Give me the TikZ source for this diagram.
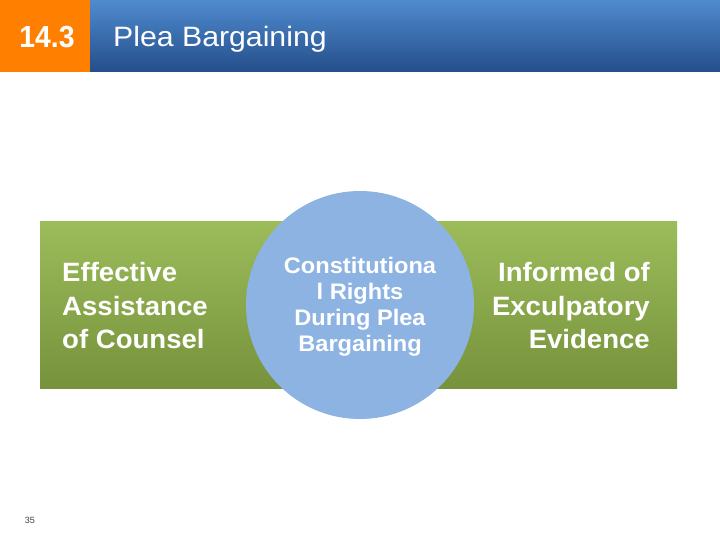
\documentclass[tikz,border=0pt]{standalone}
\usepackage{fontspec}
\setmainfont{Liberation Sans}
\definecolor{hdrorange}{HTML}{FF8000}
\definecolor{hdrblueT}{HTML}{4F8BCF}
\definecolor{hdrblueB}{HTML}{244E8A}
\definecolor{grnT}{HTML}{9CBC5A}
\definecolor{grnB}{HTML}{76923C}
\definecolor{circblue}{HTML}{8DB3E2}
\tikzset{
  bodytext/.style={text=white, font=\bfseries\fontsize{26.5}{33.5}\selectfont, inner sep=0pt, xscale=1.04},
  circtext/.style={text=white, font=\bfseries\fontsize{22.5}{26}\selectfont, inner sep=0pt, align=center, xscale=1.05},
}
\begin{document}
\begin{tikzpicture}[x=1pt,y=-1pt]
\useasboundingbox (0,0) rectangle (720,540);
\fill[white] (0,0) rectangle (720,540);
% header
\fill[hdrorange] (0,0) rectangle (90,72);
\shade[top color=hdrblueT, bottom color=hdrblueB] (90,0) rectangle (720,72);
\node[text=white, font=\bfseries\fontsize{30.5}{30}\selectfont, inner sep=0pt, xscale=0.93] (num) at (47,37) {14.3};
\node[text=white, font=\fontsize{28}{28}\selectfont, inner sep=0pt, anchor=west, xscale=1.08] (title) at (113,39) {Plea Bargaining};
% band
\shade[top color=grnT, bottom color=grnB] (40,222) rectangle (677,388);
\node[circle, fill=circblue, minimum size=228pt, inner sep=0pt] (circ) at (360,305) {};
\node[bodytext, align=left, anchor=west] (left) at (62,306) {Effective\\Assistance\\of Counsel};
\node[bodytext, align=right, anchor=east] (right) at (650,306) {Informed of\\Exculpatory\\Evidence};
\node[circtext] (ctext) at (360,307) {Constitutiona\\l Rights\\During Plea\\Bargaining};
\node[text=black!75, font=\fontsize{9}{9}\selectfont, inner sep=0pt] (page) at (30,520) {35};
\end{tikzpicture}
\end{document}
